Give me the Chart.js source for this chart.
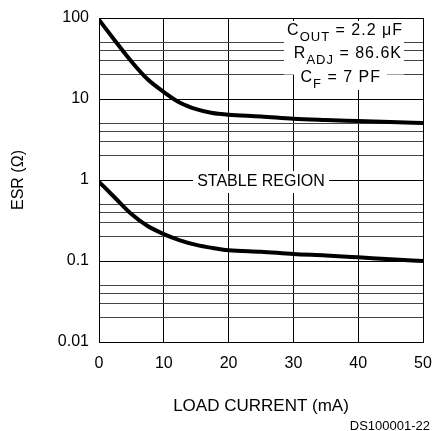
<!DOCTYPE html>
<html>
<head>
<meta charset="utf-8">
<script src="https://cdn.jsdelivr.net/npm/chart.js@4"></script>
<style>
  html, body { margin: 0; padding: 0; background: #fff; }
  #esr-chart { display: block; }
</style>
</head>
<body>
<canvas id="esr-chart" width="432" height="431" style="width:432px;height:431px"></canvas>
<script>
/* ===============================
   DATA
================================= */
const loadCurrent = [0, 2.5, 5, 7.5, 10, 12.5, 15, 17.5, 20, 25, 30, 35, 40, 45, 50];
const esrUpper = [95, 52, 29, 17.5, 12.2, 9.0, 7.5, 6.7, 6.4, 6.1, 5.7, 5.5, 5.35, 5.2, 5.06];
const esrLower = [0.95, 0.6, 0.38, 0.27, 0.215, 0.18, 0.158, 0.145, 0.136, 0.13, 0.122, 0.117, 0.111, 0.105, 0.1];

const xTicks = [0, 10, 20, 30, 40, 50];
const yDecades = [0.01, 0.1, 1, 10, 100];
const yDecadeLabels = ["0.01", "0.1", "1", "10", "100"];
const yMinorSteps = [2, 3, 4, 5];

const FONT = "'Liberation Sans', Arial, sans-serif";

/* ===============================
   HELPERS
================================= */
function points(xs, ys) {
  return xs.map((x, i) => ({ x: x, y: ys[i] }));
}

function yGridValues() {
  const vals = [];
  yDecades.forEach((d, i) => {
    vals.push(d);
    if (i < yDecades.length - 1) yMinorSteps.forEach(m => vals.push(+(d * m).toPrecision(3)));
  });
  return vals;
}

function isDecade(v) {
  return yDecades.findIndex(d => Math.abs(d - v) < d * 1e-6);
}

// text with a subscript part, right aligned at xr
function subText(ctx, parts, xr, base) {
  const big = "16px " + FONT, small = "13px " + FONT;
  let w = 0;
  parts.forEach(p => { ctx.font = p.sub ? small : big; w += ctx.measureText(p.t).width; });
  let x = xr - w;
  parts.forEach(p => {
    ctx.font = p.sub ? small : big;
    ctx.fillText(p.t, x, p.sub ? base + 6 : base);
    x += ctx.measureText(p.t).width;
  });
}

/* ===============================
   ANNOTATIONS
================================= */
const notesPlugin = {
  id: "notes",
  afterDraw(chart) {
    const ctx = chart.ctx;
    const xs = chart.scales.x, ys = chart.scales.y;
    ctx.save();

    // condition box, top right
    ctx.fillStyle = "#fff";
    ctx.fillRect(284, 21, 120, 53.5);
    ctx.fillRect(294, 66, 93, 24);
    ctx.fillStyle = "#000";
    ctx.textAlign = "left";
    ctx.textBaseline = "alphabetic";
    ctx.letterSpacing = "1px";
    subText(ctx, [{ t: "C" }, { t: "OUT", sub: true }, { t: " = 2.2 \u03BCF" }], 403, 35);
    subText(ctx, [{ t: "R" }, { t: "ADJ", sub: true }, { t: " = 86.6K" }], 402, 58);
    subText(ctx, [{ t: "C" }, { t: "F", sub: true }, { t: " = 7 PF" }], 381, 82);
    ctx.letterSpacing = "0px";

    // stable region label
    const cx = xs.getPixelForValue(25), cy = ys.getPixelForValue(1);
    ctx.fillStyle = "#fff";
    ctx.fillRect(cx - 68, cy - 9, 136, 22);
    ctx.fillStyle = "#000";
    ctx.font = "16px " + FONT;
    ctx.textAlign = "center";
    ctx.textBaseline = "middle";
    ctx.fillText("STABLE REGION", cx, cy + 2);

    // figure id
    ctx.font = "13px " + FONT;
    ctx.textAlign = "right";
    ctx.textBaseline = "alphabetic";
    ctx.fillText("DS100001-22", 430, 430);
    ctx.restore();
  }
};

/* ===============================
   CHART
================================= */
const lineStyle = {
  borderColor: "#000",
  borderWidth: 4,
  pointRadius: 0,
  fill: false,
  cubicInterpolationMode: "monotone"
};

new Chart(document.getElementById("esr-chart"), {
  type: "line",
  data: {
    datasets: [
      Object.assign({ label: "upper", data: points(loadCurrent, esrUpper) }, lineStyle),
      Object.assign({ label: "lower", data: points(loadCurrent, esrLower) }, lineStyle)
    ]
  },
  options: {
    responsive: false,
    animation: false,
    devicePixelRatio: 1,
    layout: { padding: { top: 18, right: 9, left: 0, bottom: 0 } },
    plugins: { legend: { display: false }, tooltip: { enabled: false } },
    scales: {
      x: {
        type: "linear",
        min: 0,
        max: 50,
        afterBuildTicks: s => { s.ticks = xTicks.map(v => ({ value: v })); },
        afterFit: s => { s.height = 89; s.paddingLeft = 0; s.paddingRight = 0; },
        ticks: { color: "#000", font: { family: FONT, size: 16 }, padding: 12, maxRotation: 0 },
        grid: { color: "#000", lineWidth: 1, drawTicks: false },
        border: { color: "#000", width: 1 },
        title: {
          display: true,
          text: "LOAD CURRENT (mA)",
          color: "#000",
          font: { family: FONT, size: 17 },
          padding: { top: 0, bottom: 14 }
        }
      },
      y: {
        type: "logarithmic",
        min: 0.01,
        max: 100,
        afterBuildTicks: s => { s.ticks = yGridValues().map(v => ({ value: v })); },
        afterFit: s => { s.width = 99; s.paddingTop = 0; s.paddingBottom = 0; },
        ticks: {
          autoSkip: false,
          color: "#000",
          font: { family: FONT, size: 16 },
          padding: 10,
          callback: v => {
            const i = isDecade(v);
            return i >= 0 ? yDecadeLabels[i] : "";
          }
        },
        grid: {
          color: ctx => (ctx.tick && isDecade(ctx.tick.value) < 0 ? "#444" : "#000"),
          lineWidth: 1,
          drawTicks: false
        },
        border: { color: "#000", width: 1 },
        title: {
          display: true,
          text: "ESR (\u03A9)",
          color: "#000",
          font: { family: FONT, size: 16 },
          padding: { top: 9, bottom: 0 }
        }
      }
    }
  },
  plugins: [notesPlugin]
});
</script>
</body>
</html>
